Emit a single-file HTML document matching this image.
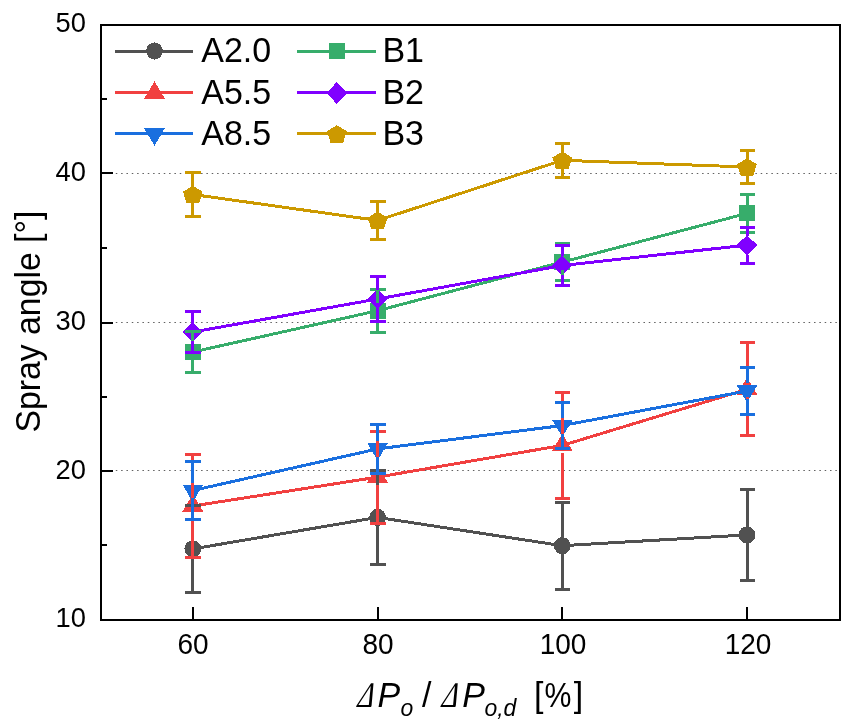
<!DOCTYPE html>
<html><head><meta charset="utf-8"><title>Spray angle chart</title>
<style>html,body{margin:0;padding:0;background:#fff}svg{display:block}</style></head>
<body>
<svg width="851" height="726" viewBox="0 0 851 726" font-family="'Liberation Sans', sans-serif">
<rect width="851" height="726" fill="#fff"/>
<line x1="115.8" x2="839" y1="173.5" y2="173.5" stroke="#606060" stroke-width="1" stroke-dasharray="1.5 3.83"/>
<line x1="115.8" x2="839" y1="322.5" y2="322.5" stroke="#606060" stroke-width="1" stroke-dasharray="1.5 3.83"/>
<line x1="115.8" x2="839" y1="470.5" y2="470.5" stroke="#606060" stroke-width="1" stroke-dasharray="1.5 3.83"/>
<g shape-rendering="crispEdges">
<polyline points="192.8,548.9 377.6,517.4 562.3,545.7 747.0,534.9" fill="none" stroke="#515151" stroke-width="3.0" stroke-linejoin="round"/>
<ellipse cx="192.8" cy="548.9" rx="8.4" ry="8.6" fill="#515151"/>
<ellipse cx="377.6" cy="517.4" rx="8.4" ry="8.6" fill="#515151"/>
<ellipse cx="562.3" cy="545.7" rx="8.4" ry="8.6" fill="#515151"/>
<ellipse cx="747.0" cy="534.9" rx="8.4" ry="8.6" fill="#515151"/>
<polyline points="192.8,506 377.6,477.1 562.3,445.4 747.0,389.3" fill="none" stroke="#F14040" stroke-width="3.0" stroke-linejoin="round"/>
<polygon points="192.8,494.27 203.4,511.87 182.20000000000002,511.87" fill="#F14040"/>
<polygon points="377.6,465.37 388.20000000000005,482.97 367.0,482.97" fill="#F14040"/>
<polygon points="562.3,433.67 572.9,451.27 551.6999999999999,451.27" fill="#F14040"/>
<polygon points="747.0,377.57 757.6,395.17 736.4,395.17" fill="#F14040"/>
<polyline points="192.8,490.5 377.6,448.9 562.3,425.5 747.0,391" fill="none" stroke="#1A6FDF" stroke-width="3.0" stroke-linejoin="round"/>
<polygon points="192.8,502.10 203.10000000000002,484.70 182.5,484.70" fill="#1A6FDF"/>
<polygon points="377.6,460.50 387.90000000000003,443.10 367.3,443.10" fill="#1A6FDF"/>
<polygon points="562.3,437.10 572.5999999999999,419.70 552.0,419.70" fill="#1A6FDF"/>
<polygon points="747.0,402.60 757.3,385.20 736.7,385.20" fill="#1A6FDF"/>
<polyline points="192.8,352 377.6,310.7 562.3,262.1 747.0,213.4" fill="none" stroke="#37AD6B" stroke-width="3.0" stroke-linejoin="round"/>
<rect x="184.8" y="344" width="16" height="16" fill="#37AD6B"/>
<rect x="369.6" y="302.7" width="16" height="16" fill="#37AD6B"/>
<rect x="554.3" y="254.10000000000002" width="16" height="16" fill="#37AD6B"/>
<rect x="739.0" y="205.4" width="16" height="16" fill="#37AD6B"/>
<polyline points="192.8,332 377.6,299 562.3,265.5 747.0,245.1" fill="none" stroke="#8000FF" stroke-width="3.0" stroke-linejoin="round"/>
<polygon points="192.8,322.0 203.0,332 192.8,342.0 182.60000000000002,332" fill="#8000FF"/>
<polygon points="377.6,289.0 387.8,299 377.6,309.0 367.40000000000003,299" fill="#8000FF"/>
<polygon points="562.3,255.5 572.5,265.5 562.3,275.5 552.0999999999999,265.5" fill="#8000FF"/>
<polygon points="747.0,235.1 757.2,245.1 747.0,255.1 736.8,245.1" fill="#8000FF"/>
<polyline points="192.8,194.5 377.6,220.4 562.3,160.3 747.0,167" fill="none" stroke="#CC9900" stroke-width="3.0" stroke-linejoin="round"/>
<polygon points="192.80,185.70 202.60,191.70 199.20,203.00 186.40,203.00 183.00,191.70" fill="#CC9900"/>
<polygon points="377.60,211.60 387.40,217.60 384.00,228.90 371.20,228.90 367.80,217.60" fill="#CC9900"/>
<polygon points="562.30,151.50 572.10,157.50 568.70,168.80 555.90,168.80 552.50,157.50" fill="#CC9900"/>
<polygon points="747.00,158.20 756.80,164.20 753.40,175.50 740.60,175.50 737.20,164.20" fill="#CC9900"/>
<path d="M192.5,505.5V540.8M192.5,557.0V592.3" stroke="#515151" stroke-width="3" fill="none"/>
<path d="M185,505.5H201M185,592.3H201" stroke="#515151" stroke-width="3" fill="none"/>
<path d="M377.5,470.5V509.3M377.5,525.5V564.2" stroke="#515151" stroke-width="3" fill="none"/>
<path d="M370,470.5H386M370,564.2H386" stroke="#515151" stroke-width="3" fill="none"/>
<path d="M562.5,502.1V537.6M562.5,553.8V589.4" stroke="#515151" stroke-width="3" fill="none"/>
<path d="M555.0,502.1H570.0M555.0,589.4H570.0" stroke="#515151" stroke-width="3" fill="none"/>
<path d="M747.5,489.3V526.8M747.5,543.0V580.4" stroke="#515151" stroke-width="3" fill="none"/>
<path d="M740.0,489.3H755.0M740.0,580.4H755.0" stroke="#515151" stroke-width="3" fill="none"/>
<path d="M192.5,454.5V498.0M192.5,514.0V557.6" stroke="#F14040" stroke-width="3" fill="none"/>
<path d="M185,454.5H201M185,557.6H201" stroke="#F14040" stroke-width="3" fill="none"/>
<path d="M377.5,431.2V469.1M377.5,485.1V523" stroke="#F14040" stroke-width="3" fill="none"/>
<path d="M370,431.2H386M370,523H386" stroke="#F14040" stroke-width="3" fill="none"/>
<path d="M562.5,392.4V437.4M562.5,453.4V498.5" stroke="#F14040" stroke-width="3" fill="none"/>
<path d="M555.0,392.4H570.0M555.0,498.5H570.0" stroke="#F14040" stroke-width="3" fill="none"/>
<path d="M747.5,342.2V381.3M747.5,397.3V435.3" stroke="#F14040" stroke-width="3" fill="none"/>
<path d="M740.0,342.2H755.0M740.0,435.3H755.0" stroke="#F14040" stroke-width="3" fill="none"/>
<path d="M192.5,461.5V482.5M192.5,498.5V519.4" stroke="#1A6FDF" stroke-width="3" fill="none"/>
<path d="M185,461.5H201M185,519.4H201" stroke="#1A6FDF" stroke-width="3" fill="none"/>
<path d="M377.5,424.1V440.9M377.5,456.9V473.7" stroke="#1A6FDF" stroke-width="3" fill="none"/>
<path d="M370,424.1H386M370,473.7H386" stroke="#1A6FDF" stroke-width="3" fill="none"/>
<path d="M562.5,402.1V417.5M562.5,433.5V448.8" stroke="#1A6FDF" stroke-width="3" fill="none"/>
<path d="M555.0,402.1H570.0M555.0,448.8H570.0" stroke="#1A6FDF" stroke-width="3" fill="none"/>
<path d="M747.5,367.4V383.0M747.5,399.0V414.5" stroke="#1A6FDF" stroke-width="3" fill="none"/>
<path d="M740.0,367.4H755.0M740.0,414.5H755.0" stroke="#1A6FDF" stroke-width="3" fill="none"/>
<path d="M192.5,331.6V344.5M192.5,359.5V372.4" stroke="#37AD6B" stroke-width="3" fill="none"/>
<path d="M185,331.6H201M185,372.4H201" stroke="#37AD6B" stroke-width="3" fill="none"/>
<path d="M377.5,289.2V303.2M377.5,318.2V332.2" stroke="#37AD6B" stroke-width="3" fill="none"/>
<path d="M370,289.2H386M370,332.2H386" stroke="#37AD6B" stroke-width="3" fill="none"/>
<path d="M562.5,243.5V254.6M562.5,269.6V280.7" stroke="#37AD6B" stroke-width="3" fill="none"/>
<path d="M555.0,243.5H570.0M555.0,280.7H570.0" stroke="#37AD6B" stroke-width="3" fill="none"/>
<path d="M747.5,194.6V205.9M747.5,220.9V232.2" stroke="#37AD6B" stroke-width="3" fill="none"/>
<path d="M740.0,194.6H755.0M740.0,232.2H755.0" stroke="#37AD6B" stroke-width="3" fill="none"/>
<path d="M192.5,311.6V322.6M192.5,341.4V352.5" stroke="#8000FF" stroke-width="3" fill="none"/>
<path d="M185,311.6H201M185,352.5H201" stroke="#8000FF" stroke-width="3" fill="none"/>
<path d="M377.5,276.5V289.6M377.5,308.4V321.4" stroke="#8000FF" stroke-width="3" fill="none"/>
<path d="M370,276.5H386M370,321.4H386" stroke="#8000FF" stroke-width="3" fill="none"/>
<path d="M562.5,245.5V256.1M562.5,274.9V285.5" stroke="#8000FF" stroke-width="3" fill="none"/>
<path d="M555.0,245.5H570.0M555.0,285.5H570.0" stroke="#8000FF" stroke-width="3" fill="none"/>
<path d="M747.5,227V235.7M747.5,254.5V263.2" stroke="#8000FF" stroke-width="3" fill="none"/>
<path d="M740.0,227H755.0M740.0,263.2H755.0" stroke="#8000FF" stroke-width="3" fill="none"/>
<path d="M192.5,172.5V186.2M192.5,202.5V216.5" stroke="#CC9900" stroke-width="3" fill="none"/>
<path d="M185,172.5H201M185,216.5H201" stroke="#CC9900" stroke-width="3" fill="none"/>
<path d="M377.5,201.6V212.1M377.5,228.4V239.1" stroke="#CC9900" stroke-width="3" fill="none"/>
<path d="M370,201.6H386M370,239.1H386" stroke="#CC9900" stroke-width="3" fill="none"/>
<path d="M562.5,143.5V152.0M562.5,168.3V177.1" stroke="#CC9900" stroke-width="3" fill="none"/>
<path d="M555.0,143.5H570.0M555.0,177.1H570.0" stroke="#CC9900" stroke-width="3" fill="none"/>
<path d="M747.5,150.7V158.7M747.5,175.0V183.3" stroke="#CC9900" stroke-width="3" fill="none"/>
<path d="M740.0,150.7H755.0M740.0,183.3H755.0" stroke="#CC9900" stroke-width="3" fill="none"/>
</g>
<rect x="101" y="25" width="739" height="595" fill="none" stroke="#000" stroke-width="2"/>
<rect x="101" y="172" width="12" height="2" fill="#000"/>
<rect x="101" y="322" width="12" height="2" fill="#000"/>
<rect x="101" y="470" width="12" height="2" fill="#000"/>
<rect x="101" y="98" width="6" height="2" fill="#000"/>
<rect x="101" y="247" width="6" height="2" fill="#000"/>
<rect x="101" y="396" width="6" height="2" fill="#000"/>
<rect x="101" y="544" width="6" height="2" fill="#000"/>
<rect x="192" y="607" width="2" height="13" fill="#000"/>
<rect x="377" y="607" width="2" height="13" fill="#000"/>
<rect x="561" y="607" width="2" height="13" fill="#000"/>
<rect x="746" y="607" width="2" height="13" fill="#000"/>
<g font-size="28px" fill="#000">
<text transform="translate(85.9,32.2) scale(0.975,1.02)" text-anchor="end">50</text>
<text transform="translate(85.9,181) scale(0.975,1.02)" text-anchor="end">40</text>
<text transform="translate(85.9,330) scale(0.975,1.02)" text-anchor="end">30</text>
<text transform="translate(85.9,479) scale(0.975,1.02)" text-anchor="end">20</text>
<text transform="translate(85.9,626.9) scale(0.975,1.02)" text-anchor="end">10</text>
<text transform="translate(193,654.2) scale(1,1.03)" text-anchor="middle">60</text>
<text transform="translate(378,654.2) scale(1,1.03)" text-anchor="middle">80</text>
<text transform="translate(563,654.2) scale(1,1.03)" text-anchor="middle">100</text>
<text transform="translate(748,654.2) scale(1,1.03)" text-anchor="middle">120</text>
</g>
<g font-size="34px" fill="#000" shape-rendering="crispEdges">
<line x1="115.4" x2="192.5" y1="51.5" y2="51.5" stroke="#515151" stroke-width="3"/>
<ellipse cx="154.5" cy="51.0" rx="8.4" ry="8.6" fill="#515151"/>
<text transform="translate(201.3,62) scale(1,1.03)">A2.0</text>
<line x1="297.4" x2="375.9" y1="51.5" y2="51.5" stroke="#37AD6B" stroke-width="3"/>
<rect x="328.9" y="43.0" width="16" height="16" fill="#37AD6B"/>
<text transform="translate(382.4,62) scale(1,1.03)">B1</text>
<line x1="115.4" x2="192.5" y1="92.5" y2="92.5" stroke="#F14040" stroke-width="3"/>
<polygon points="154.5,81.37 165.1,98.97 143.9,98.97" fill="#F14040"/>
<text transform="translate(201.3,103.5) scale(1,1.03)">A5.5</text>
<line x1="297.4" x2="375.9" y1="92.5" y2="92.5" stroke="#8000FF" stroke-width="3"/>
<polygon points="336.9,81.9 347.09999999999997,93.0 336.9,104.1 326.7,93.0" fill="#8000FF"/>
<text transform="translate(382.4,103.5) scale(1,1.03)">B2</text>
<line x1="115.4" x2="192.5" y1="133.5" y2="133.5" stroke="#1A6FDF" stroke-width="3"/>
<polygon points="154.5,145.70 164.8,128.30 144.2,128.30" fill="#1A6FDF"/>
<text transform="translate(201.3,144.9) scale(1,1.03)">A8.5</text>
<line x1="297.4" x2="375.9" y1="133.5" y2="133.5" stroke="#CC9900" stroke-width="3"/>
<polygon points="336.90,125.20 346.70,131.20 343.30,142.50 330.50,142.50 327.10,131.20" fill="#CC9900"/>
<text transform="translate(382.4,144.9) scale(1,1.03)">B3</text>
</g>
<text transform="translate(40.4,432.6) rotate(-90) scale(0.994,1.03)" font-size="34px" fill="#000">Spray angle [°]</text>
<g font-size="34px" fill="#000" transform="translate(0,707.2) scale(1,1.03) translate(0,-707)">
<text transform="translate(355,707) skewX(-21) scale(0.78,1.03)" font-family="'Liberation Serif', serif">Δ</text>
<text x="377.5" y="707" font-style="italic">P</text>
<text x="400.4" y="715.5" font-style="italic" font-size="23px">o</text>
<text x="422" y="707">/</text>
<text transform="translate(439.2,707) skewX(-21) scale(0.78,1.03)" font-family="'Liberation Serif', serif">Δ</text>
<text x="462.3" y="707" font-style="italic">P</text>
<text x="484.4" y="715.5" font-style="italic" font-size="23px">o,d</text>
<text x="534" y="707">[</text>
<text transform="translate(557.9,707) scale(0.89,1)" text-anchor="middle">%</text>
<text x="573.68" y="707">]</text>
</g>
</svg>
</body></html>
